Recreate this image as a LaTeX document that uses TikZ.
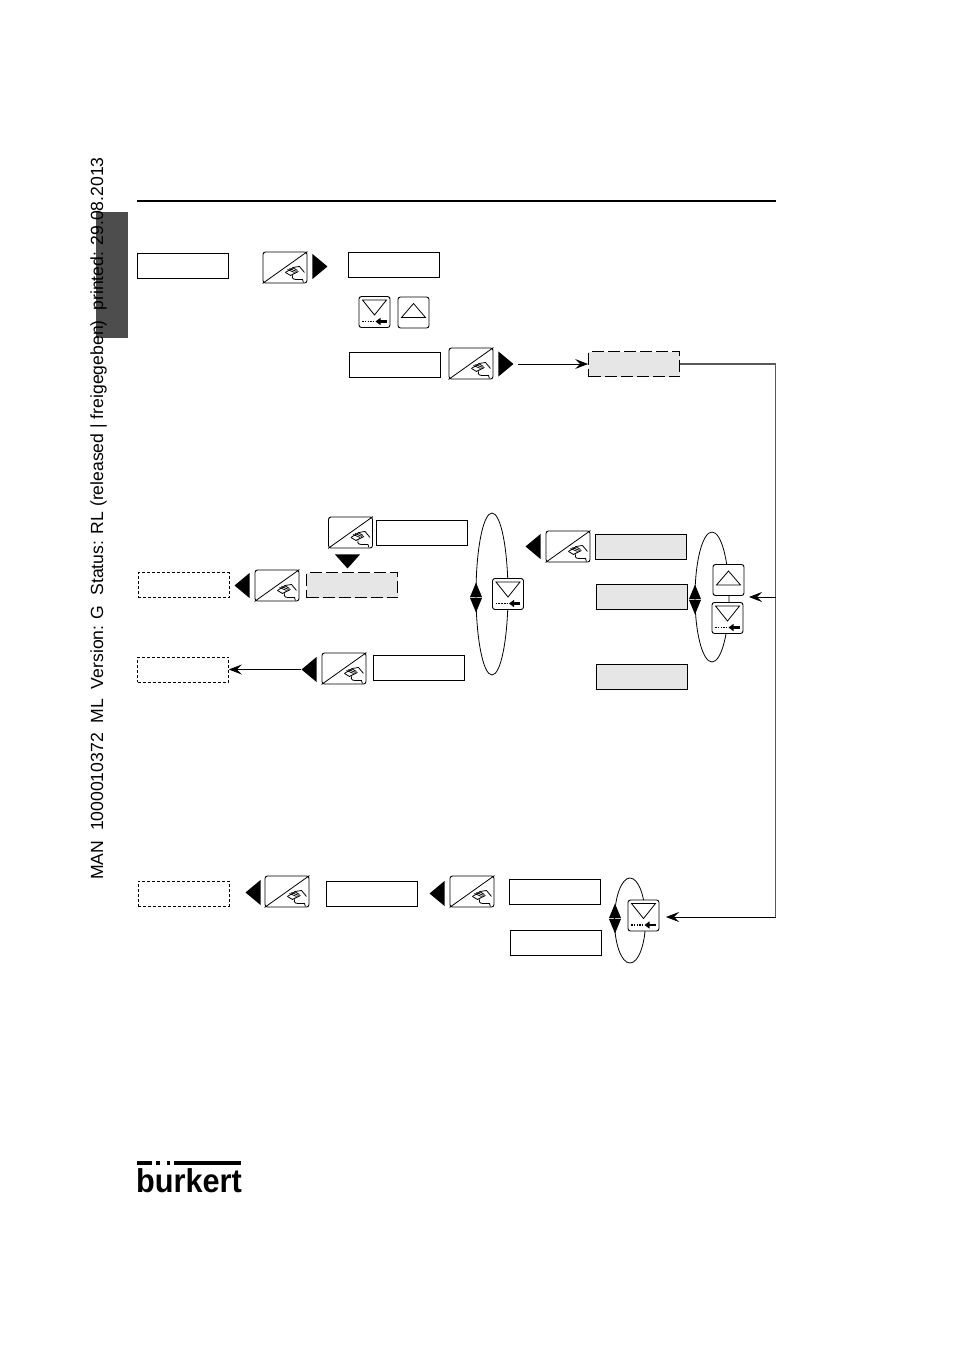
\documentclass[tikz,border=0pt]{standalone}
\usepackage{fontspec}
\setmainfont{Liberation Sans}
\usepackage{tikz}
\usetikzlibrary{arrows.meta,shapes.geometric,calc}
\definecolor{tabgray}{HTML}{4D4D4D}
\definecolor{dispgray}{HTML}{E6E6E6}
% key with the hand symbol
\newcommand{\handkey}[2]{%
  \node[handbox] (#1) at (#2) {};
  \draw[line width=0.8pt] (#1.south west) -- (#1.north east);
  \begin{scope}[shift={(#1.south east)}]
    \draw[hand] (-22,-11) -- (-14,-16) -- (-8,-17) -- (-3,-11);
    \draw[hand] (-22,-11) -- (-17,-8) -- (-9,-12);
    \draw[hand] (-20,-14) -- (-13,-11) (-18,-15) -- (-11,-12) (-15,-16) -- (-10,-13);
    \draw[hand] (-15,-8) .. controls (-16,-4) and (-13,-4) .. (-10,-4) -- (-5,-4) -- (-4,-1);
  \end{scope}}
% small key, triangle pointing down, with the dots and the arrow
\newcommand{\downkey}[2]{%
  \node[smallkey] (#1) at (#2) {};
  \begin{scope}[shift={(#1.center)}]
    \draw[line width=0.8pt] (-12,-12) -- (12,-12) -- (0,3) -- cycle;
    \draw[line width=1.6pt, dash pattern=on 1.6pt off 1.2pt] (-12.5,9.5) -- (-1,9.5);
    \draw[-{Stealth[length=5pt,width=7pt,inset=0pt]}, line width=2.2pt] (12,9.5) -- (1,9.5);
  \end{scope}}
% small key, triangle pointing up
\newcommand{\upkey}[2]{%
  \node[smallkey] (#1) at (#2) {};
  \draw[line width=0.8pt] ($(#1.center)+(-12,5)$) -- ($(#1.center)+(12,5)$) -- ($(#1.center)+(0,-9)$) -- cycle;}
\begin{document}
\begin{tikzpicture}[x=1pt,y=-1pt,
  disp/.style={draw, line width=0.9pt, minimum width=91pt, minimum height=25pt, inner sep=0pt},
  dispfill/.style={disp, fill=dispgray},
  dispdash/.style={disp, line width=0.7pt, dash pattern=on 3pt off 2pt},
  dispgrey/.style={disp, fill=dispgray, dash pattern=on 12pt off 4pt},
  handbox/.style={draw, line width=0.9pt, rounded corners=2.5pt, minimum width=44pt, minimum height=31pt, inner sep=0pt, fill=white},
  smallkey/.style={draw, line width=0.9pt, rounded corners=2.5pt, minimum width=31pt, minimum height=31pt, inner sep=0pt, fill=white},
  hand/.style={line width=0.8pt},
  tri/.style={isosceles triangle, isosceles triangle stretches, fill=black, inner sep=0pt, anchor=apex},
  trir/.style={tri, minimum height=15pt, minimum width=25pt},
  tril/.style={tri, minimum height=15pt, minimum width=25pt, shape border rotate=180},
  trid/.style={tri, minimum height=14pt, minimum width=25pt, shape border rotate=270},
  updn/.style={tri, minimum height=14.5pt, minimum width=12pt},
  loopline/.style={draw, line width=0.8pt},
  arrow/.style={-{Stealth[length=13pt,width=10pt,inset=5pt]}, line width=0.8pt},
  busline/.style={line width=1.2pt, black!65}
]
\useasboundingbox (0,0) rectangle (953,1352);

% page furniture
\node[fill=tabgray, minimum width=32pt, minimum height=126pt, inner sep=0pt] (tab) at (112,275) {};
\node[rotate=90, font=\fontsize{17.6pt}{20pt}\selectfont, inner sep=0pt] (status) at (98.5,518.5)
  {MAN\ \ 1000010372\ \ ML\ \ Version: G\ \ Status: RL (released | freigegeben)\ \ printed: 29.08.2013};
\coordinate (headl) at (137,201);
\coordinate (headr) at (776,201);
\draw[line width=2pt] (headl) -- (headr);

% top row
\node[disp] (start) at (182.5,266) {};
\handkey{keya}{285,267.5}
\node[trir] (tria) at (328,266.5) {};
\node[disp] (menu) at (394,264.5) {};
\downkey{dnkeya}{374.5,312}
\upkey{upkeya}{413.5,312.5}
\node[disp] (sel) at (394.5,365) {};
\handkey{keyb}{471,363.5}
\node[trir] (trib) at (514,364) {};
\node[dispgrey] (entry) at (634,364) {};

% middle group
\node[loopline, ellipse, minimum width=32pt, minimum height=162pt, inner sep=0pt] (loopb) at (492,594) {};
\node[updn, shape border rotate=90] (loopbu) at (476,582) {};
\node[updn, shape border rotate=270] (loopbd) at (476,613) {};
\downkey{dnkeyb}{508,594}
\handkey{keyc}{350.5,532.5}
\node[disp] (midtop) at (421.5,533) {};
\node[trid] (tric) at (347.5,569) {};
\node[dispgrey] (midgrey) at (352,585) {};
\handkey{keyd}{277,585.5}
\node[tril] (trid) at (234,585.5) {};
\node[dispdash] (exita) at (183.5,585) {};
\handkey{keye}{344,668.5}
\node[tril] (trie) at (301,669.5) {};
\node[disp] (midlow) at (418.5,667.5) {};
\node[dispdash] (exitb) at (183,669.5) {};
\draw[arrow] (trie.apex) -- (exitb.east);
\node[tril] (trif) at (525,546.5) {};
\handkey{keyf}{568,546.5}
\node[dispfill] (optb) at (641,547) {};
\node[dispfill] (optc) at (641.5,597) {};
\node[dispfill] (optd) at (642,677) {};
\node[loopline, ellipse, minimum width=34pt, minimum height=130pt, inner sep=0pt] (loopc) at (712,597) {};
\node[updn, shape border rotate=90] (loopcu) at (695,584) {};
\node[updn, shape border rotate=270] (loopcd) at (695,615) {};
\upkey{upkeyc}{728.5,580}
\downkey{dnkeyc}{727.5,618}

% bottom group
\node[dispdash] (exitc) at (183.5,893.5) {};
\node[tril] (trig) at (245,892.5) {};
\handkey{keyg}{287,891.5}
\node[disp] (low) at (372,893.5) {};
\node[tril] (trih) at (429,893.5) {};
\handkey{keyh}{472,891.5}
\node[disp] (lowa) at (555,891.5) {};
\node[disp] (lowb) at (556,942.5) {};
\node[loopline, ellipse, minimum width=31pt, minimum height=85pt, inner sep=0pt] (loopd) at (630,920.5) {};
\node[updn, shape border rotate=90] (loopdu) at (615,903) {};
\node[updn, shape border rotate=270] (loopdd) at (615,934) {};
\downkey{dnkeyd}{643.5,915.5}

% connectors
\coordinate (bustop) at (775.5,364);
\coordinate (busmid) at (775.5,597);
\coordinate (buslow) at (775.5,917);
\draw[arrow, shorten <=4pt] (trib.apex) -- (entry.west);
\draw[busline] (entry.east) -- (bustop) -- (buslow);
\draw[arrow] (busmid) -- (749,597);
\draw[arrow] (buslow) -- (666,917);

% logo
\fill (137,1161) rectangle (152,1165);
\fill (156,1161) rectangle (160,1165);
\fill (167,1161) rectangle (170,1165);
\fill (174,1161) rectangle (241,1165);
\node[font=\fontsize{33pt}{33pt}\selectfont\bfseries, inner sep=0pt, xscale=0.93, transform shape] (logo) at (189,1181) {burkert};
\end{tikzpicture}
\end{document}
